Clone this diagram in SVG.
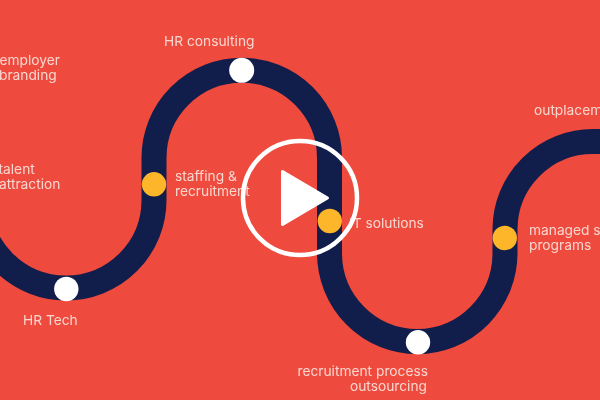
<svg xmlns="http://www.w3.org/2000/svg" width="600" height="400" viewBox="0 0 600 400">
<style>
text{font-family:"Inter","Liberation Sans",sans-serif;font-size:13.75px;fill:#f8d6cf;filter:url(#soft)}
.w{fill:#fff}
.y{fill:#fdb52a}
</style>
<defs><filter id="soft" x="-5%" y="-20%" width="110%" height="140%"><feGaussianBlur stdDeviation="0.4"/></filter></defs>
<rect width="600" height="400" fill="#ee4a3d"/>
<g id="connectors"><path d="M-22,200 A88,88 0 0 0 154,200 V158 A87.7,87.7 0 0 1 329.5,158 V253 A87.75,88.5 0 0 0 505,253 V229 A88,88 0 0 1 593,141.5 H620" fill="none" stroke="#111d4a" stroke-width="25"/></g>
<g id="employer-branding"><text x="-0.5" y="65">employer</text><text x="-1" y="80">branding</text></g>
<g id="talent-attraction"><text x="-1.5" y="174">talent</text><text x="-1" y="189">attraction</text></g>
<g id="hr-tech"><circle class="w" cx="66.300" cy="289" r="12.200"/><text x="23" y="325">HR Tech</text></g>
<g id="staffing"><circle class="y" cx="154" cy="184.300" r="12.200"/><text x="175" y="181">staffing &amp;</text><text x="175" y="196">recruitment</text></g>
<g id="hr-consulting"><circle class="w" cx="241.700" cy="70.300" r="12.500"/><text x="164" y="46">HR consulting</text></g>
<g id="it-solutions"><circle class="y" cx="329.800" cy="221" r="12.200"/><text x="349" y="228">IT solutions</text></g>
<g id="rpo"><circle class="w" cx="418" cy="342.300" r="12.200"/><text x="428" y="376" text-anchor="end">recruitment process</text><text x="427" y="391" text-anchor="end">outsourcing</text></g>
<g id="managed"><circle class="y" cx="504.800" cy="238" r="12.200"/><text x="529" y="235">managed services</text><text x="529" y="250">programs</text></g>
<g id="outplacement"><text x="534" y="115">outplacement</text></g>
<g id="play"><circle cx="300" cy="198" r="57" fill="none" stroke="#fff" stroke-width="4.500"/><path d="M282.500,171.500 L327.500,198 L282.500,224.500 Z" fill="#fff" stroke="#fff" stroke-width="3" stroke-linejoin="round"/></g>
</svg>
